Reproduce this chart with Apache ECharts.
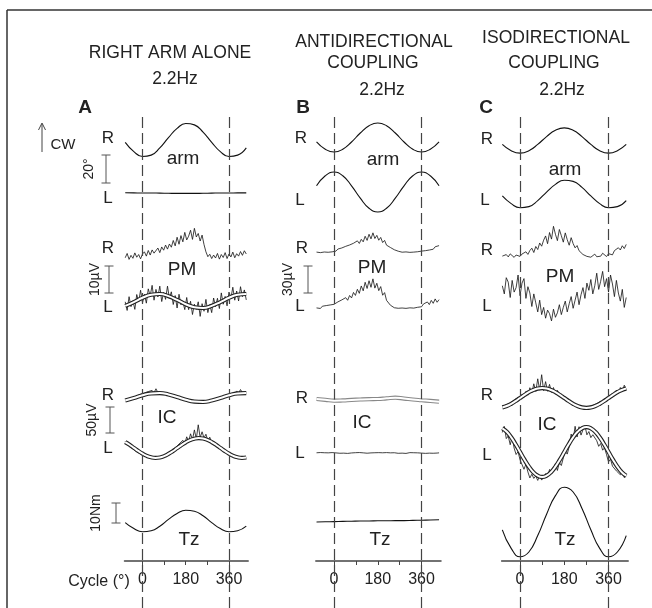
<!DOCTYPE html>
<html>
<head>
<meta charset="utf-8">
<script src="https://cdn.jsdelivr.net/npm/echarts@6/dist/echarts.min.js"></script>
<style>
  html, body { margin: 0; padding: 0; background: #fff; }
  #chart { width: 652px; height: 608px; }
</style>
</head>
<body>
<div id="chart"></div>
<script>
// phase of the movement cycle (deg)
const PHASE_COARSE = [-72, -36, 0, 36, 72, 108, 144, 180, 216, 252, 288, 324, 360, 396, 432];
const PHASE_MID = [-72, -54, -36, -18, 0, 18, 36, 54, 72, 90, 108, 126, 144, 162, 180, 198, 216, 234, 252, 270,
  288, 306, 324, 342, 360, 378, 396, 414, 432];
const PHASE_FINE = [-72, -64, -56, -48, -40, -32, -24, -16, -8, 0, 8, 16, 24, 32, 40, 48, 56, 64, 72, 80,
  88, 96, 104, 112, 120, 128, 136, 144, 152, 160, 168, 176, 184, 192, 200, 208, 216, 224, 232, 240,
  248, 256, 264, 272, 280, 288, 296, 304, 312, 320, 328, 336, 344, 352, 360, 368, 376, 384, 392, 400,
  408, 416, 424, 432];
const CYCLE_TICKS = [0, 90, 180, 270, 360];
const CYCLE_LABELS = [0, 180, 360];
const DASHED_AT = [0, 360];

// arm angle (deg)
const ARM_R_A = [-1.7, -8.3, -11.8, -10.8, -5.6, 1.7, 8.3, 11.8, 10.8, 5.6, -1.7, -8.3, -11.8, -10.8, -5.6];
const ARM_L_A = [0.2, 0.1, 0, 0, -0.1, -0.2, -0.3, -0.3, -0.3, -0.2, -0.1, 0, 0, 0.1, 0.1];
const ARM_R_B = [-3.2, -8.4, -10.4, -8.4, -3.2, 3.2, 8.4, 10.4, 8.4, 3.2, -3.2, -8.4, -10.4, -8.4, -3.2];
const ARM_L_B = [4.4, 11.6, 14.3, 11.6, 4.4, -4.4, -11.6, -14.3, -11.6, -4.4, 4.4, 11.6, 14.3, 11.6, 4.4];
const ARM_R_C = [-2.8, -7.3, -9, -7.3, -2.8, 2.8, 7.3, 9, 7.3, 2.8, -2.8, -7.3, -9, -7.3, -2.8];
const ARM_L_C = [-1.4, -6.9, -9.8, -9.0, -4.7, 1.4, 6.9, 9.8, 9.0, 4.7, -1.4, -6.9, -9.8, -9.0, -4.7];

// pectoralis major EMG (uV)
const PM_R_A = [1.2, 2.8, 0.6, 2.1, 1.0, 3.0, 1.4, 2.4, 0.8, 2.6, 3.4, 1.8, 3.9, 2.2, 4.1, 2.9, 3.6, 4.8, 3.1, 5.2,
  4.0, 5.9, 4.4, 6.3, 5.1, 7.6, 5.6, 8.8, 6.2, 9.4, 7.1, 10.6, 7.8, 9.2, 11.4, 8.0, 12.1, 8.9, 10.2, 7.4,
  9.6, 6.1, 3.4, 1.6, 2.5, 0.9, 2.2, 1.1, 2.8, 0.7, 2.4, 1.3, 3.1, 0.9, 2.6, 1.5, 3.3, 1.2, 2.7, 1.8,
  3.5, 2.1, 3.8, 2.6];
const PM_L_A = [-0.3, -3.5, 1.6, -2.1, 0.1, -3.1, 2.4, -0.3, 4.0, -0.7, 2.5, -0.8, 4.5, 1.9, 5.8, 0.3, 4.3, 1.5, 5.5, -0.2,
  3.2, 0.6, 5.5, 1.0, 3.4, -1.3, 2.0, -2.6, 2.5, -1.4, -0.3, -3.2, 1.3, -3.2, -0.1, -5.0, -1.2, -3.1, -0.3, -5.7,
  -1.0, -3.8, 0.6, -4.3, -1.4, -4.3, 1.1, -2.1, 1.0, -2.8, 3.0, -1.2, 1.7, -1.8, 3.3, 1.0, 5.1, 0.3, 3.7, 0.0,
  5.3, 1.6, 4.1, 0.4];
const PM_L_A_FIT = [-1.8, -0.4, 1.2, 2.3, 2.6, 1.8, 0.4, -1.2, -2.3, -2.6, -1.8, -0.4, 1.2, 2.3, 2.6];
const PM_R_B = [1.0, 2.6, 0.4, 2.2, 1.1, 3.0, 0.8, 2.4, 1.3, 3.2, 2.1, 4.4, 3.0, 5.6, 4.2, 7.4, 5.3, 8.9, 7.0, 10.8,
  9.2, 13.5, 10.6, 15.2, 12.4, 18.6, 14.0, 20.8, 15.7, 22.4, 16.1, 19.6, 14.2, 17.3, 11.6, 14.0, 8.7, 10.4, 6.1, 6.9,
  3.6, 4.4, 2.0, 3.1, 0.9, 2.5, 1.2, 2.8, 0.7, 2.2, 1.0, 2.7, 1.4, 3.0, 2.1, 4.0, 2.6, 4.8, 3.3, 5.5,
  4.2, 6.9, 5.0, 8.2];
const PM_L_B = [1.2, 2.8, 0.6, 3.1, 1.9, 3.8, 2.2, 4.5, 2.9, 5.2, 4.6, 7.9, 5.8, 10.1, 8.0, 12.6, 9.7, 15.0, 12.3, 18.4,
  15.1, 21.9, 17.4, 25.6, 20.2, 29.7, 22.8, 31.4, 24.1, 33.5, 23.2, 28.6, 20.4, 24.9, 15.3, 18.2, 9.6, 10.8, 4.2, 3.5,
  1.4, 2.9, 0.8, 2.6, 1.1, 3.0, 0.7, 2.4, 1.3, 3.2, 1.0, 2.8, 1.9, 4.1, 2.5, 5.6, 3.4, 7.8, 4.9, 9.6,
  6.3, 11.2, 7.5, 10.4];
const PM_R_C = [2.1, 0.4, 3.8, 1.2, 4.6, 2.9, 0.7, 3.3, 5.1, 1.8, 4.4, 2.5, 6.9, 4.0, 8.3, 10.9, 6.1, 12.8, 9.4, 16.7,
  13.1, 19.8, 24.5, 15.9, 28.3, 21.0, 35.2, 26.4, 19.3, 31.7, 24.8, 17.6, 27.9, 20.3, 14.2, 22.6, 16.0, 11.3, 13.8, 8.1,
  7.4, 3.9, 5.2, 1.8, 3.6, 0.9, 2.7, 4.3, 1.4, 3.1, 2.0, 5.3, 3.2, 1.6, 4.8, 6.9, 3.5, 8.2, 6.7, 11.4,
  8.9, 13.6, 10.5, 15.1];
const PM_L_C = [38, 29, 47, 42, 25, 44, 31, 36, 50, 27, 41, 46, 24, 37, 30, 15, 29, 19, 9, 22,
  6, 14, 2, 11, 7, -1, 12, 3, 8, 17, 6, 14, 21, 9, 18, 26, 13, 22, 31, 17,
  28, 36, 24, 41, 33, 45, 29, 38, 52, 34, 43, 54, 37, 46, 31, 50, 40, 26, 44, 30,
  21, 34, 14, 25];

// intercostal EMG (uV)
const IC_R_A = [-5.0, -4.2, -3.0, -2.4, -0.6, 0.8, 3.1, 2.5, 6.2, 4.8, 8.9, 6.0, 11.4, 7.9, 13.6, 9.0, 16.8, 9.4, 12.1, 8.6,
  10.3, 7.4, 8.8, 5.9, 6.1, 3.6, 3.4, 1.3, 0.4, -1.1, -2.2, -3.5, -4.4, -5.5, -6.3, -7.1, -7.5, -8.0, -8.2, -8.4,
  -8.3, -7.8, -7.5, -6.8, -6.4, -5.2, -4.5, -3.2, -2.3, -0.8, 0.3, 1.6, 3.4, 4.1, 6.8, 5.9, 9.7, 7.5, 12.6, 8.4,
  15.3, 9.1, 11.8, 9.0];
const IC_R_A_FIT = [-5.8, -0.9, 4.4, 7.9, 8.5, 5.8, 0.9, -4.4, -7.9, -8.5, -5.8, -0.9, 4.4, 7.9, 8.5];
const IC_L_A = [12.6, 8.1, 7.9, 1.2, 3.0, -4.8, -2.4, -9.6, -7.3, -13.5, -11.8, -15.9, -14.6, -18.4, -16.9, -19.8, -17.6, -19.5, -16.7, -17.9,
  -14.2, -15.0, -10.8, -11.2, -5.9, -6.8, 0.4, -1.5, 7.6, 3.9, 14.8, 8.7, 21.5, 12.6, 27.3, 15.9, 34.8, 17.4, 44.6, 20.1,
  31.2, 19.3, 26.5, 14.0, 20.8, 10.6, 13.4, 5.8, 6.9, 0.9, -0.4, -4.5, -5.1, -9.4, -9.8, -13.9, -13.6, -17.0, -16.4, -19.2,
  -17.8, -20.3, -18.1, -19.4];
const IC_L_A_FIT = [11.4, 6.2, 0.3, -5.6, -10.9, -15.2, -17.9, -19.0, -18.2, -15.6, -11.4, -6.2, -0.3, 5.6, 10.9, 15.2,
  17.9, 19.0, 18.2, 15.6, 11.4, 6.2, 0.3, -5.6, -10.9, -15.2, -17.9, -19.0, -18.2];
const IC_R_B_FIT = [1.9, 0.4, -1.3, -0.8, 0.2, 1.0, 1.6, 1.9, 3.2, 4.4, 2.8, 0.9, -0.5, -1.8, -3.2];
const IC_L_B = [0.4, -0.6, 0.9, -0.2, 0.5, -0.9, 0.3, -0.4, 0.8, -0.7, 0.2, 0.6, -0.5, 0.9, -0.3, 0.4, -0.8, 0.7, 0.1, -0.5,
  0.6, -0.2, 0.9, -0.6, 0.3, 0.8, -0.4, 1.2, 0.2, 1.6, 0.5, -0.3, 0.7, -0.6, 0.4, -0.2, 0.8, -0.5, 0.3, -0.7,
  0.5, 0.1, -0.6, 0.6, -0.3, 0.4, -0.8, 0.2, 0.7, -0.4, 0.5, -0.6, 0.3, 0.8, -0.2, 0.4, -0.7, 0.6, -0.3, 0.2,
  -0.5, 0.7, -0.1, 0.3];
const IC_R_C = [-16.2, -19.4, -13.1, -15.8, -9.5, -12.6, -4.3, -8.0, 1.4, -3.1, 6.8, 1.9, 12.5, 5.4, 19.8, 9.7, 27.3, 12.6, 36.9, 15.2,
  44.8, 14.1, 31.5, 13.0, 26.2, 10.8, 20.1, 7.3, 14.6, 3.0, 7.9, -1.7, 2.4, -6.1, -3.3, -10.5, -8.0, -15.1, -12.6, -18.4,
  -15.0, -20.2, -16.8, -20.7, -16.5, -19.9, -14.3, -17.6, -10.9, -14.5, -6.2, -10.4, -1.5, -5.8, 4.3, -0.9, 9.6, 3.8, 15.2, 8.5,
  20.1, 12.4, 24.6, 15.9];
const IC_R_C_FIT = [-18.1, -15.4, -11.2, -5.9, 0, 5.9, 11.2, 15.4, 18.1, 19, 18.1, 15.4, 11.2, 5.9, 0, -5.9,
  -11.2, -15.4, -18.1, -19, -18.1, -15.4, -11.2, -5.9, 0, 5.9, 11.2, 15.4, 18.1];
const IC_L_C = [37.6, 49.2, 25.8, 30.7, 13.9, 29.4, 7.5, -4.8, 0.7, -15.0, -15.7, -33.2, -23.5, -38.4, -49.9, -42.7, -50.8, -46.2, -54.6, -45.3,
  -54.0, -48.8, -41.6, -47.5, -33.6, -39.8, -43.4, -22.2, -35.5, -20.4, -26.0, -11.4, 1.4, -4.0, 10.4, 34.5, 23.2, 49.4, 28.8, 48.6,
  32.5, 42.6, 50.8, 33.0, 39.3, 27.6, 33.2, 36.8, 21.7, 10.9, 16.4, 3.5, 8.2, -5.3, -19.0, -13.7, -27.2, -23.5, -36.4, -32.9,
  -43.7, -36.8, -49.2, -46.6];
const IC_L_C_FIT = [45.6, 38.8, 28.2, 14.8, 0, -14.8, -28.2, -38.8, -45.6, -48, -45.6, -38.8, -28.2, -14.8, 0, 14.8,
  28.2, 38.8, 45.6, 48, 45.6, 38.8, 28.2, 14.8, 0, -14.8, -28.2, -38.8, -45.6];

// torque Tz (Nm)
const TZ_A = [-0.8, -3.8, -5.4, -4.9, -2.6, 0.8, 3.8, 5.4, 4.9, 2.6, -0.8, -3.8, -5.4, -4.9, -2.6];
const TZ_B = [-0.5, -0.4, -0.3, -0.2, -0.1, 0, 0, 0.1, 0.1, 0.2, 0.2, 0.3, 0.4, 0.5, 0.6];
const TZ_C = [-3.9, -13.2, -17.4, -15.0, -6.8, 3.9, 13.2, 17.4, 15.0, 6.8, -3.9, -13.2, -17.4, -15.0, -6.8];

const FONT = '"Liberation Sans", Arial, sans-serif';
const X_MIN = -75, X_MAX = 440;
const PANEL_X = [
  { left: 124.5, width: 123.7 },
  { left: 315.8, width: 125.2 },
  { left: 501.6, width: 126.6 }
];

// px per unit for each signal
const ARM_SCALE = 1.4, PM_A_SCALE = 2.7, PM_BC_SCALE = 0.9, IC_SCALE = 0.52, TZ_SCALE = 2;

let grids = [], xAxes = [], yAxes = [], series = [];

function addGrid(p, cy, scale) {
  let gi = grids.length;
  grids.push({ left: PANEL_X[p].left, width: PANEL_X[p].width, top: cy - 60, height: 120 });
  xAxes.push({ gridIndex: gi, type: "value", min: X_MIN, max: X_MAX, show: false });
  yAxes.push({ gridIndex: gi, type: "value", min: -60 / scale, max: 60 / scale, show: false });
  return gi;
}

function addLine(gi, xs, ys, color, width, z, smooth) {
  series.push({
    type: "line", xAxisIndex: gi, yAxisIndex: gi,
    data: xs.map((x, i) => [x, ys[i]]),
    symbol: "none", smooth: smooth, clip: false, silent: true, z: z,
    lineStyle: { color: color, width: width }
  });
}

function smoothTrace(p, cy, scale, ys) {
  let gi = addGrid(p, cy, scale);
  addLine(gi, PHASE_COARSE, ys, "#111", 1.1, 3, true);
}

// noisy EMG trace, optionally with its white fitted curve on top
function noisyTrace(p, cy, scale, ys, fit, fitPhase, outline) {
  let gi = addGrid(p, cy, scale);
  if (ys) addLine(gi, PHASE_FINE, ys, "#111", 0.8, 3, false);
  if (fit) {
    addLine(gi, fitPhase, fit, outline || "#222", 4.2, 4, true);
    addLine(gi, fitPhase, fit, "#fff", 2, 5, true);
  }
}

// arm rows
smoothTrace(0, 140, ARM_SCALE, ARM_R_A);
smoothTrace(0, 193, ARM_SCALE, ARM_L_A);
smoothTrace(1, 137.5, ARM_SCALE, ARM_R_B);
smoothTrace(1, 192, ARM_SCALE, ARM_L_B);
smoothTrace(2, 140.5, ARM_SCALE, ARM_R_C);
smoothTrace(2, 194, ARM_SCALE, ARM_L_C);
// PM rows
noisyTrace(0, 261, PM_A_SCALE, PM_R_A);
noisyTrace(0, 301, PM_A_SCALE, PM_L_A, PM_L_A_FIT, PHASE_COARSE);
noisyTrace(1, 253, PM_BC_SCALE, PM_R_B);
noisyTrace(1, 309, PM_BC_SCALE, PM_L_B);
noisyTrace(2, 258, PM_BC_SCALE, PM_R_C);
noisyTrace(2, 320, PM_BC_SCALE, PM_L_C);
// IC rows
noisyTrace(0, 397.5, IC_SCALE, IC_R_A, IC_R_A_FIT, PHASE_COARSE);
noisyTrace(0, 448, IC_SCALE, IC_L_A, IC_L_A_FIT, PHASE_MID);
noisyTrace(1, 400, IC_SCALE, null, IC_R_B_FIT, PHASE_COARSE, "#888");
noisyTrace(1, 453, IC_SCALE, IC_L_B);
noisyTrace(2, 398, IC_SCALE, IC_R_C, IC_R_C_FIT, PHASE_MID);
noisyTrace(2, 452, IC_SCALE, IC_L_C, IC_L_C_FIT, PHASE_MID);
// torque
smoothTrace(0, 521, TZ_SCALE, TZ_A);
smoothTrace(1, 521, TZ_SCALE, TZ_B);
smoothTrace(2, 522, TZ_SCALE, TZ_C);

// cycle axes and dashed 0/360 markers
for (let p = 0; p < 3; p++) {
  let gi = grids.length;
  grids.push({ left: PANEL_X[p].left, width: PANEL_X[p].width, top: 560, height: 1 });
  xAxes.push({
    gridIndex: gi, type: "value", min: X_MIN, max: X_MAX, position: "bottom",
    axisLine: { lineStyle: { color: "#444", width: 1.5 } },
    axisTick: { show: true, length: 4, customValues: CYCLE_TICKS, lineStyle: { color: "#444" } },
    axisLabel: { customValues: CYCLE_LABELS, fontSize: 16, fontFamily: FONT, color: "#222", margin: 11 },
    splitLine: { show: false }
  });
  yAxes.push({ gridIndex: gi, type: "value", show: false });

  gi = grids.length;
  grids.push({ left: PANEL_X[p].left, width: PANEL_X[p].width, top: 115, height: 493 });
  xAxes.push({ gridIndex: gi, type: "value", min: X_MIN, max: X_MAX, show: false });
  yAxes.push({ gridIndex: gi, type: "value", min: 0, max: 1, show: false });
  series.push({
    type: "line", xAxisIndex: gi, yAxisIndex: gi, data: [], silent: true, z: 1,
    markLine: {
      symbol: "none", silent: true, animation: false, label: { show: false },
      lineStyle: { type: [11, 5], color: "#444", width: 1.2 },
      data: DASHED_AT.map(v => ({ xAxis: v }))
    }
  });
}

// annotations
function txt(x, y, s, size, extra) {
  extra = extra || {};
  return {
    type: "text", x: x, y: y, rotation: extra.rotation || 0, z: 10, silent: true,
    style: {
      text: s, fontSize: size, fontFamily: FONT, fontWeight: extra.bold ? "bold" : "normal",
      fill: "#222", align: "center", verticalAlign: "middle", textAlign: "center", textVerticalAlign: "middle"
    }
  };
}
function ln(x1, y1, x2, y2, color, w) {
  return { type: "line", silent: true, z: 10, shape: { x1: x1, y1: y1, x2: x2, y2: y2 }, style: { stroke: color, lineWidth: w } };
}
function scaleBar(x, yBottom, value, scale, label, labelX) {
  let h = value * scale, yTop = yBottom - h;
  return [
    ln(x, yTop, x, yBottom, "#555", 1),
    ln(x - 4.5, yTop, x + 4.5, yTop, "#555", 1),
    ln(x - 4.5, yBottom, x + 4.5, yBottom, "#555", 1),
    txt(labelX, yTop + h / 2, label, 14, { rotation: Math.PI / 2 })
  ];
}

let graphic = [
  ln(7, 10, 652, 10, "#333", 1.5),
  ln(7, 10, 7, 608, "#333", 1.5),
  txt(170, 53, "RIGHT ARM ALONE", 17.5),
  txt(175, 79, "2.2Hz", 17.5),
  txt(374, 42, "ANTIDIRECTIONAL", 17.5),
  txt(373, 63, "COUPLING", 17.5),
  txt(382, 90, "2.2Hz", 17.5),
  txt(556, 38, "ISODIRECTIONAL", 17.5),
  txt(554, 63, "COUPLING", 17.5),
  txt(562, 90, "2.2Hz", 17.5),
  txt(85, 108, "A", 19, { bold: true }),
  txt(303, 108, "B", 19, { bold: true }),
  txt(486, 108, "C", 19, { bold: true }),
  ln(42, 152, 42, 124, "#444", 1),
  { type: "polyline", silent: true, z: 10, shape: { points: [[38.5, 130], [42, 123], [45.5, 130]] }, style: { stroke: "#444", lineWidth: 1, fill: null } },
  txt(63, 145, "CW", 15),
  txt(99, 582, "Cycle (°)", 16)
];
// R / L tags and signal names
[[108, 138, "R"], [108, 198, "L"], [108, 248, "R"], [108, 307, "L"], [108, 395, "R"], [108, 448, "L"],
 [301, 138, "R"], [300, 200, "L"], [302, 248, "R"], [300, 306, "L"], [302, 398, "R"], [300, 453, "L"],
 [487, 139, "R"], [485, 200, "L"], [487, 250, "R"], [487, 306, "L"], [487, 395, "R"], [487, 455, "L"]]
  .forEach(t => graphic.push(txt(t[0], t[1], t[2], 17)));
[[183, 159, "arm"], [383, 160, "arm"], [565, 170, "arm"],
 [182, 270, "PM"], [372, 268, "PM"], [560, 277, "PM"],
 [167, 418, "IC"], [362, 423, "IC"], [547, 425, "IC"],
 [189, 540, "Tz"], [380, 540, "Tz"], [565, 540, "Tz"]]
  .forEach(t => graphic.push(txt(t[0], t[1], t[2], 19)));
graphic = graphic.concat(
  scaleBar(106, 183, 20, ARM_SCALE, "20°", 89),
  scaleBar(109, 293, 10, PM_A_SCALE, "10µV", 95),
  scaleBar(308, 293, 30, PM_BC_SCALE, "30µV", 288),
  scaleBar(110, 433, 50, IC_SCALE, "50µV", 92),
  scaleBar(116, 523, 10, TZ_SCALE, "10Nm", 96)
);

let myChart = echarts.init(document.getElementById("chart"), null, { renderer: "canvas" });
myChart.setOption({
  animation: false,
  backgroundColor: "#fff",
  grid: grids,
  xAxis: xAxes,
  yAxis: yAxes,
  series: series,
  graphic: graphic
});
</script>
</body>
</html>
